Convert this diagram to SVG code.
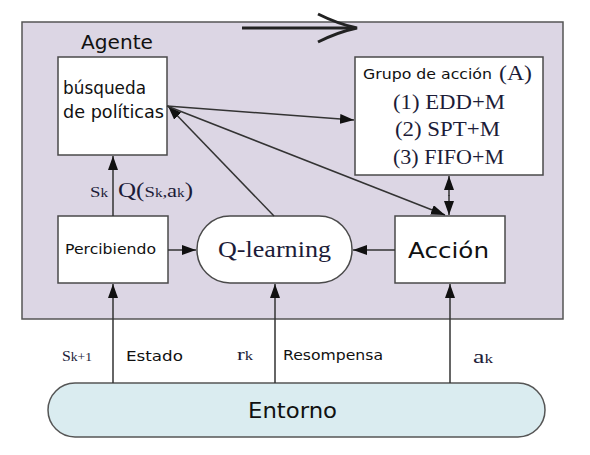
<svg xmlns="http://www.w3.org/2000/svg" width="590" height="455" viewBox="0 0 590 455">
<defs>
<style>
.box{fill:#fff;stroke:#4a4a4a;stroke-width:1.5}
.sans{font-family:"DejaVu Sans","Liberation Sans",sans-serif;fill:#111}
.serif{font-family:"Liberation Serif","Times New Roman",serif;fill:#1c1c38}
.ln{stroke:#333;stroke-width:1.5;fill:none}
</style>
<marker id="ah" viewBox="0 0 14 10" refX="14" refY="5" markerWidth="14" markerHeight="10" markerUnits="userSpaceOnUse" orient="auto">
<path d="M0,0 L14,5 L0,10 z" fill="#111"/>
</marker>
</defs>
<rect width="590" height="455" fill="#fff"/>
<g id="agente">
<rect x="22" y="22" width="541" height="297" fill="#dcd6e4" stroke="#555" stroke-width="1.5"/>
<text class="sans" x="81" y="49" font-size="19" textLength="72" lengthAdjust="spacingAndGlyphs">Agente</text>
</g>
<g id="flecha-superior">
<line x1="242" y1="28" x2="355" y2="28" stroke="#222" stroke-width="3"/>
<path d="M318,14 Q338,24 357,28 Q338,32 318,42" fill="none" stroke="#222" stroke-width="3"/>
</g>
<g id="busqueda">
<rect class="box" x="58" y="57" width="109" height="98"/>
<text class="sans" x="63" y="94" font-size="17" textLength="83" lengthAdjust="spacingAndGlyphs">búsqueda</text>
<text class="sans" x="63" y="118" font-size="17" textLength="101" lengthAdjust="spacingAndGlyphs">de políticas</text>
</g>
<g id="grupo">
<rect class="box" x="355" y="57" width="188" height="118"/>
<text class="sans" x="363" y="79" font-size="14" textLength="129" lengthAdjust="spacingAndGlyphs">Grupo de acción</text>
<text class="serif" x="499" y="80" font-size="21" textLength="33" lengthAdjust="spacingAndGlyphs">(A)</text>
<text class="serif" x="393" y="109" font-size="21" textLength="112" lengthAdjust="spacingAndGlyphs">(1) EDD+M</text>
<text class="serif" x="395" y="136" font-size="21" textLength="105" lengthAdjust="spacingAndGlyphs">(2) SPT+M</text>
<text class="serif" x="393" y="164" font-size="21" textLength="111" lengthAdjust="spacingAndGlyphs">(3) FIFO+M</text>
</g>
<g id="percibiendo">
<rect class="box" x="58" y="216" width="110" height="67"/>
<text class="sans" x="65" y="254" font-size="14" textLength="91" lengthAdjust="spacingAndGlyphs">Percibiendo</text>
</g>
<g id="qlearning">
<rect class="box" x="197" y="216" width="155" height="67" rx="33" ry="33"/>
<text class="serif" x="218" y="257" font-size="23" textLength="113" lengthAdjust="spacingAndGlyphs">Q-learning</text>
</g>
<g id="accion">
<rect class="box" x="395" y="216" width="110" height="67"/>
<text class="sans" x="408" y="258" font-size="22" textLength="81" lengthAdjust="spacingAndGlyphs">Acción</text>
</g>
<g id="entorno">
<rect x="48" y="383" width="497" height="54" rx="27" ry="27" fill="#daecf0" stroke="#555" stroke-width="1.5"/>
<text class="sans" x="248" y="418" font-size="21" textLength="89" lengthAdjust="spacingAndGlyphs">Entorno</text>
</g>
<g id="conectores">
<line class="ln" x1="113" y1="216" x2="113" y2="156" marker-end="url(#ah)"/>
<line class="ln" x1="168" y1="250" x2="196" y2="250" marker-end="url(#ah)"/>
<line class="ln" x1="395" y1="250" x2="353" y2="250" marker-end="url(#ah)"/>
<line class="ln" x1="274" y1="216" x2="168" y2="106" marker-end="url(#ah)"/>
<line class="ln" x1="167" y1="106" x2="354" y2="120" marker-end="url(#ah)"/>
<line class="ln" x1="167" y1="106" x2="445" y2="215" marker-end="url(#ah)"/>
<line class="ln" x1="449" y1="196" x2="449" y2="176" marker-end="url(#ah)"/>
<line class="ln" x1="449" y1="195" x2="449" y2="215" marker-end="url(#ah)"/>
<line class="ln" x1="113" y1="383" x2="113" y2="284" marker-end="url(#ah)"/>
<line class="ln" x1="275" y1="383" x2="275" y2="284" marker-end="url(#ah)"/>
<line class="ln" x1="450" y1="383" x2="450" y2="284" marker-end="url(#ah)"/>
</g>
<g id="etiquetas">
<text class="serif" x="90" y="197" font-size="15" textLength="18" lengthAdjust="spacingAndGlyphs">S<tspan font-size="12">k</tspan></text>
<text class="serif" x="118" y="197" font-size="20" textLength="75" lengthAdjust="spacingAndGlyphs">Q(<tspan font-size="15">S</tspan><tspan font-size="12">k</tspan><tspan font-size="15">,</tspan><tspan font-size="18">a</tspan><tspan font-size="12">k</tspan>)</text>
<text class="serif" x="62" y="361" font-size="14" textLength="30" lengthAdjust="spacingAndGlyphs">S<tspan font-size="12">k+1</tspan></text>
<text class="sans" x="126" y="361" font-size="14.5" textLength="57" lengthAdjust="spacingAndGlyphs">Estado</text>
<text class="serif" x="237" y="360" font-size="17" textLength="16" lengthAdjust="spacingAndGlyphs">r<tspan font-size="12">k</tspan></text>
<text class="sans" x="283" y="360" font-size="13.5" textLength="100" lengthAdjust="spacingAndGlyphs">Resompensa</text>
<text class="serif" x="473" y="363" font-size="18" textLength="20" lengthAdjust="spacingAndGlyphs">a<tspan font-size="12">k</tspan></text>
</g>
</svg>
